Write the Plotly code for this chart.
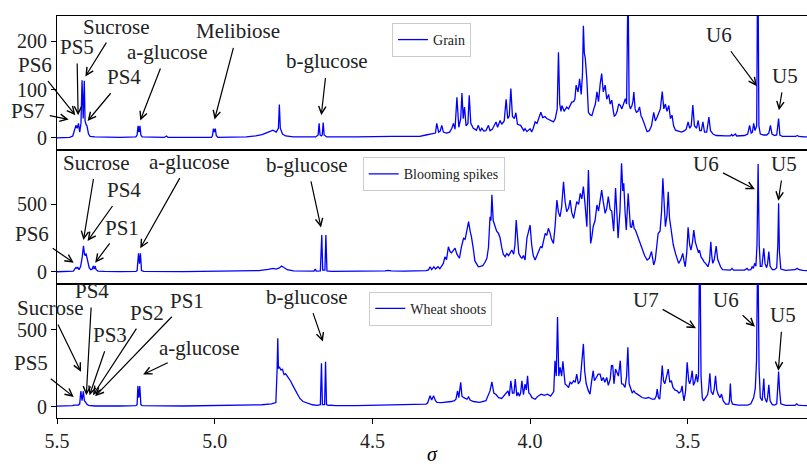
import plotly.graph_objects as go
from plotly.subplots import make_subplots

# ---------------------------------------------------------------------------
# 1H NMR spectra (chemical shift in ppm, intensity) for three tissues
# ---------------------------------------------------------------------------
GRAIN = [
    (5.50, 0), (5.46, 1), (5.450, 4), (5.445, 15), (5.440, 26), (5.436, 20),
    (5.432, 30), (5.428, 12), (5.424, 30), (5.4205, 119), (5.417, 40),
    (5.4135, 118), (5.411, 35), (5.408, 28), (5.405, 25), (5.400, 8),
    (5.395, 3), (5.38, 2), (5.30, 1), (5.250, 2), (5.246, 6), (5.243, 25),
    (5.240, 12), (5.237, 25), (5.234, 6), (5.230, 2), (5.16, 1), (5.153, 4),
    (5.148, 1), (5.01, 1), (5.007, 5), (5.004, 19), (5.001, 12), (4.998, 19),
    (4.995, 5), (4.99, 1), (4.90, 2), (4.87, 4), (4.85, 7), (4.83, 12),
    (4.815, 16), (4.805, 12), (4.798, 20), (4.795, 69), (4.792, 20),
    (4.785, 8), (4.775, 4), (4.75, 2), (4.68, 2), (4.672, 6), (4.669, 30),
    (4.666, 6), (4.662, 4), (4.659, 6), (4.656, 32), (4.653, 6), (4.648, 4),
    (4.645, 2), (4.55, 2), (4.50, 3), (4.45, 4), (4.44, 3), (4.40, 3),
    (4.35, 3), (4.33, 6), (4.315, 8), (4.30, 10), (4.296, 30), (4.290, 12),
    (4.285, 14), (4.280, 26), (4.275, 12), (4.265, 10), (4.255, 12),
    (4.248, 20), (4.243, 30), (4.238, 18), (4.232, 84), (4.226, 22),
    (4.220, 40), (4.216, 93), (4.212, 40), (4.208, 64), (4.203, 25),
    (4.197, 30), (4.193, 88), (4.188, 30), (4.180, 20), (4.170, 16),
    (4.164, 26), (4.158, 14), (4.153, 20), (4.147, 14), (4.140, 15),
    (4.132, 26), (4.127, 15), (4.120, 18), (4.115, 24), (4.108, 33),
    (4.103, 22), (4.095, 36), (4.090, 28), (4.082, 35), (4.076, 80),
    (4.071, 40), (4.066, 45), (4.061, 102), (4.056, 45), (4.050, 40),
    (4.045, 52), (4.040, 28), (4.030, 26), (4.020, 15), (4.016, 19),
    (4.010, 13), (4.000, 19), (3.995, 12), (3.990, 20), (3.984, 33),
    (3.978, 30), (3.972, 40), (3.966, 53), (3.960, 42), (3.953, 44),
    (3.947, 40), (3.940, 38), (3.932, 35), (3.926, 33), (3.920, 40),
    (3.914, 60), (3.910, 177), (3.906, 70), (3.902, 55), (3.899, 67),
    (3.892, 55), (3.884, 64), (3.878, 60), (3.873, 66), (3.868, 74),
    (3.862, 75), (3.858, 80), (3.854, 109), (3.848, 95), (3.843, 122),
    (3.838, 90), (3.834, 130), (3.831, 232), (3.828, 175), (3.825, 165),
    (3.820, 120), (3.815, 53), (3.810, 48), (3.804, 46), (3.798, 60),
    (3.793, 70), (3.788, 95), (3.783, 75), (3.778, 110), (3.773, 133),
    (3.768, 95), (3.762, 109), (3.757, 80), (3.751, 90), (3.746, 70),
    (3.741, 78), (3.736, 55), (3.733, 45), (3.729, 47), (3.724, 55),
    (3.719, 70), (3.714, 67), (3.709, 60), (3.704, 70), (3.698, 81),
    (3.694, 70), (3.6895, 330), (3.686, 70), (3.682, 60), (3.677, 67),
    (3.674, 75), (3.671, 95), (3.667, 60), (3.663, 53), (3.658, 55),
    (3.653, 64), (3.648, 45), (3.644, 40), (3.640, 33), (3.635, 22),
    (3.629, 13), (3.622, 15), (3.615, 25), (3.608, 53), (3.603, 35),
    (3.597, 43), (3.592, 50), (3.587, 60), (3.581, 96), (3.576, 60),
    (3.571, 70), (3.566, 55), (3.560, 67), (3.555, 40), (3.550, 47),
    (3.545, 25), (3.539, 16), (3.530, 14), (3.520, 12), (3.510, 15),
    (3.505, 18), (3.499, 33), (3.494, 20), (3.489, 25), (3.484, 68),
    (3.479, 25), (3.472, 20), (3.467, 36), (3.462, 15), (3.457, 15),
    (3.452, 33), (3.447, 12), (3.440, 12), (3.433, 43), (3.428, 15),
    (3.420, 8), (3.41, 5), (3.38, 4), (3.365, 4), (3.361, 7), (3.357, 4),
    (3.349, 8), (3.345, 4), (3.32, 5), (3.310, 8), (3.304, 26), (3.299, 10),
    (3.295, 12), (3.291, 30), (3.287, 15), (3.2815, 25), (3.278, 420),
    (3.2745, 25), (3.270, 8), (3.26, 6), (3.25, 6), (3.243, 10), (3.238, 26),
    (3.233, 8), (3.225, 5), (3.218, 6), (3.212, 40), (3.208, 6), (3.20, 3),
    (3.17, 2), (3.158, 3), (3.153, 5), (3.148, 3), (3.13, 2), (3.12, 2),
]

BLOOMING = [
    (5.50, 0), (5.46, 2), (5.448, 5), (5.444, 20), (5.440, 32), (5.437, 25),
    (5.434, 32), (5.430, 15), (5.425, 40), (5.420, 110), (5.416, 192),
    (5.413, 130), (5.410, 120), (5.408, 136), (5.405, 100), (5.402, 60),
    (5.398, 30), (5.393, 15), (5.388, 20), (5.385, 42), (5.382, 20),
    (5.379, 42), (5.376, 15), (5.370, 5), (5.35, 2), (5.30, 1), (5.25, 2),
    (5.246, 8), (5.2415, 136), (5.2385, 60), (5.2355, 136), (5.232, 8),
    (5.225, 2), (5.10, 1), (4.95, 2), (4.90, 4), (4.86, 8), (4.83, 18),
    (4.815, 25), (4.805, 20), (4.795, 28), (4.788, 42), (4.78, 30),
    (4.77, 15), (4.75, 6), (4.72, 3), (4.685, 4), (4.681, 20), (4.678, 5),
    (4.665, 6), (4.6605, 272), (4.6575, 12), (4.6505, 12), (4.6475, 272),
    (4.644, 6), (4.63, 3), (4.55, 3), (4.46, 6), (4.45, 10), (4.44, 6),
    (4.40, 5), (4.35, 5), (4.330, 8), (4.322, 14), (4.317, 37), (4.312, 16),
    (4.305, 37), (4.300, 20), (4.292, 37), (4.286, 22), (4.280, 40),
    (4.275, 62), (4.270, 110), (4.265, 90), (4.259, 185), (4.254, 150),
    (4.249, 140), (4.244, 160), (4.238, 175), (4.232, 130), (4.224, 100),
    (4.218, 180), (4.211, 248), (4.206, 240), (4.201, 297), (4.195, 371),
    (4.190, 300), (4.186, 260), (4.180, 170), (4.175, 80), (4.170, 60),
    (4.164, 37), (4.158, 40), (4.150, 45), (4.143, 70), (4.137, 100),
    (4.132, 180), (4.127, 408), (4.124, 380), (4.121, 570), (4.117, 380),
    (4.111, 334), (4.106, 300), (4.100, 284), (4.095, 250), (4.090, 180),
    (4.085, 130), (4.079, 111), (4.074, 135), (4.068, 120), (4.063, 140),
    (4.058, 161), (4.052, 130), (4.048, 200), (4.044, 384), (4.040, 240),
    (4.036, 136), (4.030, 110), (4.026, 100), (4.021, 120), (4.016, 87),
    (4.010, 250), (4.005, 297), (4.000, 346), (3.995, 200), (3.990, 120),
    (3.984, 87), (3.978, 120), (3.972, 160), (3.967, 185), (3.962, 180),
    (3.957, 240), (3.952, 284), (3.947, 270), (3.942, 322), (3.937, 290),
    (3.932, 240), (3.926, 210), (3.921, 330), (3.915, 532), (3.910, 440),
    (3.905, 408), (3.900, 480), (3.894, 668), (3.889, 520), (3.884, 445),
    (3.878, 470), (3.873, 532), (3.868, 440), (3.862, 396), (3.857, 470),
    (3.852, 520), (3.846, 500), (3.841, 581), (3.836, 540), (3.831, 631),
    (3.826, 507), (3.820, 334), (3.815, 755), (3.811, 400), (3.808, 210),
    (3.804, 260), (3.800, 334), (3.794, 380), (3.788, 495), (3.783, 450),
    (3.778, 520), (3.773, 606), (3.768, 520), (3.762, 433), (3.757, 470),
    (3.752, 557), (3.746, 460), (3.741, 450), (3.735, 300), (3.729, 620),
    (3.724, 400), (3.721, 248), (3.715, 450), (3.710, 804), (3.706, 600),
    (3.703, 656), (3.699, 450), (3.695, 309), (3.689, 581), (3.685, 420),
    (3.682, 334), (3.678, 330), (3.674, 384), (3.670, 320), (3.666, 309),
    (3.660, 270), (3.655, 235), (3.650, 200), (3.645, 161), (3.637, 120),
    (3.629, 87), (3.622, 100), (3.615, 150), (3.611, 90), (3.608, 50),
    (3.603, 90), (3.598, 180), (3.594, 284), (3.588, 300), (3.583, 450),
    (3.579, 693), (3.575, 450), (3.571, 334), (3.566, 420), (3.562, 594),
    (3.558, 400), (3.552, 284), (3.546, 200), (3.539, 136), (3.534, 100),
    (3.529, 62), (3.522, 90), (3.516, 136), (3.512, 80), (3.508, 37),
    (3.503, 150), (3.499, 329), (3.494, 200), (3.490, 161), (3.485, 220),
    (3.481, 309), (3.476, 220), (3.470, 173), (3.466, 140), (3.463, 161),
    (3.458, 110), (3.452, 90), (3.449, 75), (3.443, 60), (3.436, 37),
    (3.431, 80), (3.427, 223), (3.424, 120), (3.421, 62), (3.416, 90),
    (3.410, 190), (3.405, 90), (3.400, 50), (3.396, 37), (3.390, 15),
    (3.38, 12), (3.365, 12), (3.360, 25), (3.355, 12), (3.32, 12),
    (3.312, 25), (3.308, 12), (3.300, 15), (3.296, 37), (3.292, 25),
    (3.288, 62), (3.284, 40), (3.2805, 200), (3.277, 800), (3.2735, 200),
    (3.270, 40), (3.265, 40), (3.262, 100), (3.259, 173), (3.255, 60),
    (3.250, 30), (3.247, 60), (3.243, 150), (3.239, 40), (3.232, 15),
    (3.225, 15), (3.218, 30), (3.2145, 200), (3.212, 507), (3.2095, 150),
    (3.205, 20), (3.19, 10), (3.17, 10), (3.16, 15), (3.153, 25),
    (3.147, 15), (3.135, 10), (3.12, 8),
]

SHOOTS = [
    (5.50, 5), (5.46, 6), (5.450, 8), (5.446, 12), (5.44, 10), (5.432, 12),
    (5.428, 20), (5.4245, 102), (5.4205, 40), (5.4165, 102), (5.413, 40),
    (5.408, 25), (5.404, 15), (5.40, 10), (5.39, 8), (5.38, 6), (5.30, 6),
    (5.25, 8), (5.246, 15), (5.2435, 135), (5.2405, 60), (5.2375, 135),
    (5.234, 15), (5.23, 8), (5.10, 6), (5.00, 8), (4.95, 8), (4.90, 10),
    (4.85, 14), (4.82, 20), (4.806, 28), (4.802, 250), (4.800, 446),
    (4.798, 250), (4.795, 260), (4.790, 240), (4.785, 244), (4.780, 210),
    (4.775, 215), (4.770, 200), (4.760, 170), (4.750, 130), (4.740, 90),
    (4.730, 55), (4.720, 35), (4.705, 22), (4.69, 14), (4.675, 10),
    (4.665, 14), (4.6615, 283), (4.6585, 15), (4.6515, 15), (4.6485, 293),
    (4.6455, 15), (4.64, 10), (4.63, 12), (4.62, 8), (4.55, 8), (4.48, 10),
    (4.45, 14), (4.44, 10), (4.40, 12), (4.35, 15), (4.33, 18), (4.325, 25),
    (4.317, 72), (4.312, 45), (4.306, 72), (4.300, 40), (4.295, 30),
    (4.280, 28), (4.265, 30), (4.250, 35), (4.240, 40), (4.235, 50),
    (4.230, 104), (4.226, 60), (4.220, 159), (4.216, 70), (4.210, 60),
    (4.200, 50), (4.195, 65), (4.190, 45), (4.180, 35), (4.160, 30),
    (4.140, 40), (4.127, 104), (4.121, 163), (4.115, 90), (4.108, 80),
    (4.100, 60), (4.090, 55), (4.079, 83), (4.075, 90), (4.070, 104),
    (4.066, 70), (4.061, 170), (4.056, 90), (4.051, 90), (4.047, 181),
    (4.042, 70), (4.038, 94), (4.034, 70), (4.030, 90), (4.026, 170),
    (4.021, 80), (4.016, 148), (4.012, 110), (4.008, 202), (4.004, 90),
    (4.000, 83), (3.994, 60), (3.984, 50), (3.975, 70), (3.965, 83),
    (3.955, 75), (3.945, 83), (3.935, 70), (3.928, 90), (3.925, 100),
    (3.921, 300), (3.917, 200), (3.913, 583), (3.909, 200), (3.905, 257),
    (3.900, 200), (3.896, 296), (3.892, 180), (3.889, 148), (3.884, 140),
    (3.878, 126), (3.873, 160), (3.868, 150), (3.862, 170), (3.857, 160),
    (3.852, 213), (3.847, 150), (3.841, 170), (3.836, 300), (3.831, 409),
    (3.827, 235), (3.822, 150), (3.815, 104), (3.810, 83), (3.806, 150),
    (3.800, 235), (3.796, 170), (3.790, 191), (3.784, 213), (3.778, 213),
    (3.773, 170), (3.768, 191), (3.763, 160), (3.757, 191), (3.752, 140),
    (3.746, 180), (3.742, 268), (3.738, 268), (3.734, 150), (3.729, 246),
    (3.724, 220), (3.720, 200), (3.714, 300), (3.710, 150), (3.705, 148),
    (3.699, 126), (3.694, 200), (3.690, 387), (3.686, 150), (3.681, 126),
    (3.676, 90), (3.671, 104), (3.666, 90), (3.660, 83), (3.650, 70),
    (3.645, 61), (3.634, 55), (3.624, 61), (3.613, 50), (3.605, 50),
    (3.600, 70), (3.597, 115), (3.593, 60), (3.589, 50), (3.585, 150),
    (3.581, 268), (3.577, 170), (3.573, 150), (3.567, 200), (3.562, 246),
    (3.557, 160), (3.552, 170), (3.547, 126), (3.541, 110), (3.534, 104),
    (3.528, 90), (3.522, 100), (3.518, 137), (3.515, 80), (3.512, 39),
    (3.507, 100), (3.502, 289), (3.497, 170), (3.494, 150), (3.490, 180),
    (3.486, 235), (3.482, 140), (3.478, 160), (3.473, 213), (3.469, 160),
    (3.466, 200), (3.462, 1200), (3.458, 200), (3.454, 60), (3.450, 39),
    (3.446, 50), (3.442, 61), (3.437, 80), (3.434, 120), (3.430, 218),
    (3.426, 100), (3.422, 80), (3.420, 80), (3.416, 120), (3.412, 202),
    (3.408, 110), (3.404, 83), (3.398, 60), (3.393, 83), (3.388, 40),
    (3.380, 18), (3.370, 18), (3.368, 40), (3.365, 152), (3.362, 40),
    (3.358, 18), (3.34, 12), (3.31, 12), (3.300, 20), (3.291, 61),
    (3.286, 120), (3.282, 300), (3.278, 1100), (3.274, 250), (3.270, 61),
    (3.264, 40), (3.262, 80), (3.259, 184), (3.256, 60), (3.250, 30),
    (3.247, 60), (3.243, 144), (3.239, 40), (3.232, 15), (3.225, 12),
    (3.218, 20), (3.215, 120), (3.212, 230), (3.209, 110), (3.205, 20),
    (3.19, 10), (3.160, 10), (3.155, 20), (3.150, 12), (3.14, 10), (3.12, 8),
]

SAMPLES = ["Grain", "Blooming spikes", "Wheat shoots"]
SPECTRA = [GRAIN, BLOOMING, SHOOTS]

X_TICKS = [5.5, 5.0, 4.5, 4.0, 3.5]
Y_TICKS = [[0, 100, 200], [0, 500], [0, 500]]
Y_RANGES = [[-25, 252], [-91, 903], [-72, 798]]
X_RANGE = [5.5, 3.122]

# Peak assignments: (label, row, peak ppm, peak level, label ppm, label level)
ASSIGNMENTS = [
    ("PS7", 1, 5.463, 38, 5.591, 55),
    ("PS6", 1, 5.442, 47, 5.569, 150),
    ("PS5", 1, 5.433, 47, 5.437, 188),
    ("Sucrose", 1, 5.410, 127, 5.312, 230),
    ("PS4", 1, 5.403, 35, 5.288, 125),
    ("a-glucose", 1, 5.236, 36, 5.152, 177),
    ("Melibiose", 1, 5.0005, 38, 4.927, 220),
    ("b-glucose", 1, 4.662, 47, 4.643, 158),
    ("U6", 1, 3.281, 107, 3.401, 212),
    ("U5", 1, 3.211, 57, 3.193, 128),

    ("Sucrose", 2, 5.416, 235, 5.376, 810),
    ("PS4", 2, 5.403, 228, 5.288, 606),
    ("PS6", 2, 5.447, 67, 5.580, 280),
    ("PS1", 2, 5.379, 67, 5.295, 328),
    ("a-glucose", 2, 5.236, 174, 5.082, 814),
    ("b-glucose", 2, 4.663, 329, 4.706, 792),
    ("U6", 2, 3.287, 611, 3.443, 799),
    ("U5", 2, 3.213, 527, 3.195, 799),

    ("Sucrose", 3, 5.424, 228, 5.522, 640),
    ("PS4", 3, 5.407, 76, 5.389, 752),
    ("PS3", 3, 5.397, 76, 5.331, 467),
    ("PS2", 3, 5.386, 76, 5.215, 612),
    ("PS1", 3, 5.379, 70, 5.088, 687),
    ("PS5", 3, 5.447, 65, 5.581, 283),
    ("a-glucose", 3, 5.227, 211, 5.050, 383),
    ("b-glucose", 3, 4.657, 424, 4.706, 715),
    ("U7", 3, 3.474, 511, 3.634, 696),
    ("U6", 3, 3.287, 521, 3.379, 696),
    ("U5", 3, 3.213, 235, 3.199, 595),
]

SERIF = "Liberation Serif"
LEGEND_POS = [(0.4467, 0.9826), (0.4076, 0.6485), (0.4164, 0.314)]

fig = make_subplots(rows=3, cols=1, shared_xaxes=True, vertical_spacing=0)

for i, (name, spec) in enumerate(zip(SAMPLES, SPECTRA)):
    ppm = [p for p, _ in spec]
    inten = [v for _, v in spec]
    fig.add_trace(
        go.Scatter(
            x=ppm, y=inten, mode="lines", name=name,
            line=dict(color="#0000ff", width=1.3),
            legend="legend" if i == 0 else f"legend{i + 1}",
        ),
        row=i + 1, col=1,
    )

legend_style = dict(
    xanchor="left", yanchor="top",
    bgcolor="rgba(255,255,255,0.85)", bordercolor="#cccccc", borderwidth=1,
    font=dict(family=SERIF, size=14, color="#222222"),
    tracegroupgap=0,
)
layout_legends = {}
for i, (lx, ly) in enumerate(LEGEND_POS):
    key = "legend" if i == 0 else f"legend{i + 1}"
    layout_legends[key] = dict(x=lx, y=ly, **legend_style)

fig.update_layout(
    width=807, height=465,
    margin=dict(l=57, r=0, t=16, b=47),
    plot_bgcolor="white", paper_bgcolor="white",
    font=dict(family=SERIF, size=20, color="black"),
    showlegend=True,
    **layout_legends,
)

for r in range(1, 4):
    fig.update_xaxes(
        row=r, col=1, range=X_RANGE, autorange=False,
        showline=True, mirror=True, linecolor="black", linewidth=1,
        showgrid=False, zeroline=False,
        tickvals=X_TICKS, ticktext=[f"{t:.1f}" for t in X_TICKS],
        ticks="outside" if r == 3 else "", ticklen=5, tickwidth=1,
        tickcolor="black",
        showticklabels=(r == 3),
        tickfont=dict(family=SERIF, size=20, color="#222222"),
    )
    fig.update_yaxes(
        row=r, col=1, range=Y_RANGES[r - 1], autorange=False,
        showline=True, mirror=True, linecolor="black", linewidth=1,
        showgrid=False, zeroline=False,
        tickvals=Y_TICKS[r - 1], ticks="outside", ticklen=5, tickwidth=1,
        tickcolor="black",
        tickfont=dict(family=SERIF, size=20, color="#222222"),
    )

fig.update_xaxes(row=3, col=1, title=dict(text="<i>σ</i>", standoff=0,
                                          font=dict(family=SERIF, size=20)))

for label, row, hx, hy, tx, ty in ASSIGNMENTS:
    xr = "x" if row == 1 else f"x{row}"
    yr = "y" if row == 1 else f"y{row}"
    fig.add_annotation(
        x=hx, y=hy, xref=xr, yref=yr,
        ax=tx, ay=ty, axref=xr, ayref=yr,
        text=label, showarrow=True,
        arrowhead=5, arrowsize=1.2, arrowwidth=1.2, arrowcolor="black",
        standoff=0, startstandoff=3,
        font=dict(family=SERIF, size=21, color="#222222"),
    )

fig.write_html("out.html")
